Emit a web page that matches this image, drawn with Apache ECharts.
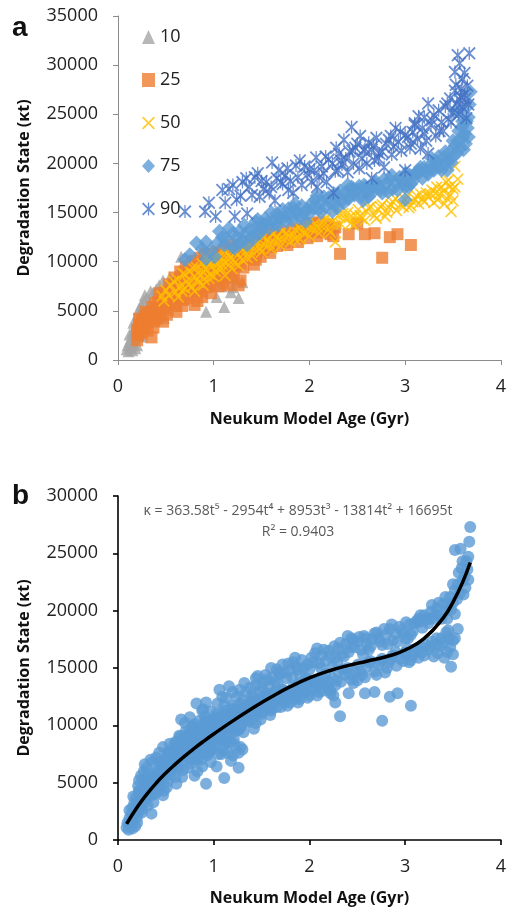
<!DOCTYPE html>
<html>
<head>
<meta charset="utf-8">
<script src="https://cdn.jsdelivr.net/npm/echarts@6/dist/echarts.min.js"></script>
<style>html,body{margin:0;padding:0;background:#fff;}#c{width:509px;height:913px;}</style>
</head>
<body>
<div id="c"></div>
<script>
// ---- Data ----
const seriesNames = ['10', '25', '50', '75', '90'];
const xTicks = [0, 1, 2, 3, 4];
const yTicksTop = [0, 5000, 10000, 15000, 20000, 25000, 30000, 35000];
const yTicksBottom = [0, 5000, 10000, 15000, 20000, 25000, 30000];

const p10 = [[0.09,1100],[0.1,1500],[0.11,900],[0.12,1900],[0.13,1300],[0.14,2300],[0.15,1000],[0.15,2800],[0.16,1700],[0.17,3200],[0.18,2200],[0.19,3700],[0.2,1500],[0.21,4700],[0.21,2700],[0.22,4300],[0.23,3300],[0.24,5600],[0.25,2400],[0.26,4200],[0.27,6000],[0.28,3600],[0.29,5200],[0.3,6300],[0.31,4600],[0.33,5800],[0.35,3900],[0.36,6800],[0.38,5000],[0.4,7200],[0.42,6100],[0.44,5500],[0.47,8100],[0.48,4300],[0.5,6500],[0.55,5900],[0.58,7000],[0.61,8600],[0.63,6300],[0.66,10500],[0.68,7800],[0.72,9200],[0.75,7100],[0.8,8400],[0.85,9600],[0.89,11400],[0.92,4900],[0.95,7600],[1.0,8900],[1.03,6400],[1.08,7500],[1.11,5400],[1.18,6900],[1.22,8300],[1.26,6300],[1.3,7900],
  [0.12,2600],[0.14,1500],[0.16,3800],[0.18,1200],[0.19,2900],[0.22,5200],[0.24,3900],[0.26,5300],[0.28,6600],[0.32,4200],[0.34,7000],[0.37,5500],[0.41,4800],[0.43,7600],[0.45,6700],[0.52,7600],[0.54,8400],[0.57,6400],[0.6,7600],[0.64,9100],[0.7,8300],[0.78,9900],[0.83,7000],[0.9,10200],[0.97,8200],[1.05,9400],[1.14,8600],[1.2,7400],[1.25,9600]];

const p25 = [[0.2,3100],[0.21,2500],[0.22,3600],[0.23,2900],[0.24,3400],[0.25,4000],[0.27,3200],[0.28,4400],[0.3,3700],[0.32,4800],[0.35,2300],[0.35,4200],[0.36,5400],[0.38,4000],[0.4,5000],[0.42,5900],[0.44,4600],[0.46,6500],[0.48,5300],[0.5,6000],[0.52,5100],[0.54,7000],[0.56,6200],[0.58,7600],[0.6,5500],[0.62,6800],[0.64,8000],[0.66,7200],[0.68,6100],[0.7,8600],[0.72,7700],[0.74,9200],[0.76,6700],[0.78,8300],[0.8,5600],[0.8,10100],[0.82,7400],[0.84,9000],[0.86,8000],[0.88,6400],[0.9,9600],[0.92,8500],[0.94,10300],[0.96,7700],[0.98,9100],[1.0,10600],[1.02,8300],[1.04,9800],[1.06,10900],[1.08,8800],[1.1,7800],[1.12,10200],[1.14,9300],[1.16,11100],[1.18,8500],[1.2,10500],[1.22,9600],[1.25,11300],[1.28,8100],[1.28,9800],[1.3,10800],[1.33,11600],[1.36,10300],[1.4,11200],[1.44,10200],[1.47,11800],[1.5,12300],[1.53,11900],[1.57,12600],[1.6,11500],[1.64,12900],[1.68,12200],[1.72,13100],[1.77,11700],[1.8,12700],[1.86,12500],[1.9,13300],[1.95,12900],[2.0,13700],[2.05,13100],[2.1,14000],[2.17,13400],[2.22,12800],[2.27,13500],[2.32,10800],[2.41,12800],[2.5,13900],[2.58,12800],[2.68,12900],[2.76,10400],[2.84,12500],[2.92,12800],[3.06,11700],
  [0.2,2000],[0.22,4200],[0.25,2700],[0.26,3700],[0.29,4900],[0.31,3000],[0.33,4100],[0.37,3300],[0.39,5800],[0.41,4200],[0.43,6800],[0.45,5400],[0.47,3900],[0.49,6900],[0.51,4600],[0.53,7700],[0.55,5700],[0.57,6800],[0.59,8400],[0.61,4900],[0.63,7200],[0.65,9000],[0.67,5500],[0.69,7500],[0.71,9500],[0.73,6300],[0.75,8100],[0.77,9900],[0.79,7200],[0.81,8800],[0.83,6000],[0.85,10400],[0.87,7000],[0.89,8900],[0.91,10800],[0.93,7400],[0.95,9400],[0.97,6800],[0.99,8000],[1.01,9600],[1.03,11000],[1.05,7500],[1.07,9200],[1.09,10400],[1.11,8400],[1.13,11300],[1.15,7600],[1.17,9800],[1.19,11700],[1.21,8800],[1.23,10200],[1.26,7600],[1.29,11300],[1.31,9400],[1.34,10800],[1.38,12000],[1.42,9700],[1.45,11000],[1.49,10500],[1.52,11200],[1.55,12800],[1.59,10900],[1.62,12300],[1.66,11600],[1.7,12500],[1.74,12000],[1.83,13300],[1.88,12000],[1.98,12400],[2.03,13900],[2.08,12600],[2.13,13000],[2.2,13800],[2.25,12600]];

const p50 = [[0.46,6500],[0.5,7100],[0.55,7600],[0.6,6900],[0.62,8200],[0.65,7500],[0.68,8800],[0.7,7300],[0.72,8000],[0.75,9000],[0.77,7400],[0.8,8500],[0.82,9400],[0.84,7900],[0.86,8700],[0.88,9800],[0.9,8200],[0.92,9200],[0.94,10100],[0.96,8700],[0.98,9500],[1.0,10300],[1.02,9000],[1.04,9800],[1.06,10600],[1.08,9300],[1.1,10100],[1.12,8600],[1.14,10900],[1.16,9700],[1.18,10400],[1.2,11100],[1.22,9900],[1.25,10700],[1.28,11400],[1.3,10200],[1.33,11000],[1.36,11700],[1.4,10600],[1.43,11300],[1.46,12000],[1.5,11000],[1.53,11700],[1.56,12300],[1.6,11300],[1.63,12000],[1.66,12600],[1.7,11600],[1.73,12300],[1.76,12900],[1.8,12000],[1.83,12700],[1.86,13200],[1.9,12300],[1.93,13000],[1.96,13600],[2.0,12600],[2.03,13300],[2.06,13900],[2.1,12900],[2.13,13600],[2.17,14500],[2.2,13300],[2.24,14100],[2.27,12000],[2.3,14700],[2.33,13800],[2.37,14400],[2.4,15000],[2.44,14000],[2.48,14700],[2.51,15300],[2.55,14400],[2.6,15100],[2.64,15600],[2.68,14700],[2.72,15300],[2.76,15800],[2.79,14600],[2.83,15500],[2.87,16100],[2.91,15200],[2.95,15800],[3.0,16300],[3.04,15500],[3.08,16100],[3.12,16700],[3.14,15900],[3.18,16400],[3.22,17000],[3.24,16600],[3.28,17300],[3.3,16000],[3.33,17600],[3.36,16900],[3.38,17600],[3.41,15900],[3.43,18100],[3.45,18300],[3.47,16800],[3.48,15100],[3.5,17400],[3.52,17600],[3.52,19700],[3.55,18400],
  [0.48,6000],[0.53,6600],[0.58,8000],[0.63,6400],[0.67,7000],[0.7,8700],[0.74,7700],[0.78,9400],[0.8,7000],[0.83,8200],[0.87,9200],[0.89,7600],[0.92,10400],[0.95,8300],[0.97,9900],[1.0,8500],[1.03,10600],[1.05,9300],[1.09,9700],[1.11,11000],[1.15,10200],[1.19,9300],[1.23,11000],[1.26,9600],[1.3,11600],[1.35,10400],[1.38,11200],[1.42,12100],[1.48,11400],[1.52,12500],[1.58,11800],[1.62,12800],[1.68,12200],[1.72,13100],[1.78,12600],[1.85,12300],[1.88,13600],[1.95,12900],[1.98,14000],[2.08,13500],[2.15,14100],[2.22,13000],[2.28,13900],[2.35,14900],[2.42,14500],[2.46,13700],[2.53,14700],[2.58,14200],[2.62,15500],[2.7,14400],[2.74,15600],[2.81,15000],[2.85,15800],[2.9,16400],[2.98,15600],[3.02,16700],[3.06,15700],[3.1,16400],[3.16,16900],[3.2,16100],[3.26,16900],[3.32,17000],[3.34,16300],[3.4,17200],[3.44,16400],[3.46,17600],[3.5,16200]];

const p75 = [[0.7,10200],[0.82,11900],[0.92,10300],[0.92,12000],[1.01,10500],[1.09,12500],[1.13,12400],[1.2,12900],[1.2,11500],[1.22,11400],[1.27,13100],[1.3,12200],[1.34,12900],[1.35,11700],[1.4,12600],[1.44,14100],[1.44,13500],[1.48,12900],[1.52,13800],[1.54,14400],[1.58,13400],[1.62,14200],[1.66,14900],[1.67,13700],[1.7,14500],[1.72,15300],[1.76,14100],[1.8,14800],[1.83,15500],[1.86,15100],[1.9,14400],[1.92,15700],[1.96,14100],[1.98,15300],[2.02,15900],[2.06,16300],[2.1,15400],[2.13,16100],[2.17,15600],[2.2,16500],[2.24,15100],[2.27,15900],[2.3,16700],[2.34,16200],[2.38,17100],[2.41,16400],[2.44,17600],[2.47,16800],[2.5,17300],[2.54,16600],[2.57,17800],[2.6,17100],[2.62,16600],[2.66,17500],[2.7,18100],[2.72,17600],[2.76,17000],[2.8,17900],[2.84,18400],[2.87,17400],[2.9,18000],[2.94,18600],[2.96,18300],[3.0,16300],[3.0,17600],[3.03,17600],[3.05,18800],[3.08,18200],[3.12,19100],[3.14,19300],[3.14,19000],[3.18,18500],[3.2,19600],[3.24,18900],[3.27,19900],[3.3,19300],[3.33,20200],[3.36,19600],[3.38,19300],[3.4,20600],[3.43,20000],[3.45,20300],[3.47,21200],[3.5,20700],[3.52,21800],[3.52,25300],[3.55,22300],[3.57,21500],[3.58,25400],[3.59,23700],[3.6,22600],[3.61,21400],[3.62,23000],[3.64,24300],[3.66,22700],[3.66,24700],[3.67,26000],[3.68,27300],
  [0.75,10700],[0.88,11300],[0.97,11200],[1.04,11900],[1.06,13100],[1.11,11700],[1.16,13400],[1.24,12500],[1.28,11900],[1.32,13700],[1.38,13300],[1.42,12400],[1.46,14300],[1.5,13300],[1.56,14000],[1.6,15000],[1.64,13800],[1.68,14600],[1.74,14600],[1.78,15400],[1.82,14200],[1.85,15900],[1.88,14900],[1.94,15000],[2.0,14900],[2.04,15500],[2.08,16700],[2.12,15000],[2.15,16600],[2.22,16000],[2.26,16900],[2.29,15500],[2.32,17200],[2.36,16000],[2.4,17800],[2.43,16800],[2.46,17400],[2.52,17700],[2.56,16200],[2.59,17600],[2.64,16900],[2.68,18000],[2.74,17300],[2.78,18400],[2.82,17100],[2.86,18800],[2.92,17300],[2.98,18000],[3.01,19000],[3.06,17900],[3.1,18900],[3.16,19600],[3.22,19200],[3.26,19300],[3.28,20500],[3.32,19700],[3.35,20700],[3.42,21200],[3.44,19300],[3.48,20100],[3.5,22300],[3.54,21000],[3.56,23300],[3.6,24300],[3.63,22000],[3.65,23600]];

const p90 = [[0.7,15100],[0.91,15100],[1.02,14600],[1.09,17300],[1.16,17400],[1.22,14600],[1.24,16300],[1.3,18100],[1.34,18500],[1.35,14900],[1.4,16800],[1.43,18600],[1.48,16600],[1.52,17400],[1.55,18100],[1.58,17000],[1.61,20100],[1.64,16200],[1.66,18500],[1.68,19300],[1.72,17900],[1.75,18800],[1.78,17300],[1.8,18200],[1.83,17000],[1.86,19800],[1.88,18600],[1.92,17800],[1.95,19700],[1.98,18900],[2.02,18100],[2.05,19300],[2.08,17600],[2.1,18600],[2.13,19700],[2.15,19000],[2.18,18100],[2.2,20400],[2.24,20000],[2.25,17000],[2.27,19200],[2.3,19300],[2.31,21000],[2.34,19900],[2.36,22400],[2.38,20500],[2.4,19100],[2.42,21200],[2.44,23700],[2.46,20000],[2.48,21600],[2.5,22000],[2.52,19500],[2.55,20500],[2.57,21300],[2.6,20000],[2.62,22100],[2.65,21400],[2.65,18500],[2.68,20300],[2.7,22600],[2.73,21000],[2.76,21200],[2.78,19600],[2.8,22000],[2.83,22400],[2.86,20900],[2.88,21700],[2.9,23600],[2.93,22200],[2.96,21300],[3.0,22900],[3.0,19300],[3.03,22700],[3.05,21600],[3.08,23200],[3.1,23900],[3.1,24100],[3.13,22500],[3.16,21500],[3.18,23600],[3.2,24700],[3.22,22300],[3.24,26100],[3.24,21000],[3.27,23900],[3.3,24900],[3.32,22800],[3.35,25400],[3.38,24200],[3.4,23300],[3.42,25800],[3.45,24500],[3.47,26600],[3.5,25200],[3.52,27400],[3.52,29300],[3.54,26100],[3.55,31000],[3.56,25000],[3.57,30200],[3.58,26800],[3.59,27600],[3.6,25700],[3.62,29200],[3.63,26600],[3.64,24600],[3.65,27900],[3.67,31200],
  [0.95,16000],[1.12,16000],[1.2,17800],[1.28,16700],[1.37,17600],[1.46,19000],[1.5,18200],[1.6,17600],[1.7,18100],[1.77,19500],[1.9,20300],[2.0,19400],[2.07,20600],[2.17,20700],[2.28,21600],[2.33,20300],[2.45,21300],[2.53,22800],[2.58,21500],[2.67,21800],[2.72,20500],[2.85,22800],[2.95,23200],[3.06,22000],[3.14,24800],[3.2,23000],[3.28,24400],[3.36,23300],[3.44,26100],[3.48,24200],[3.53,28000],[3.57,26500],[3.6,28600],[3.62,27000],[3.66,26000]];

// fitted trend curve (panel b)
const fitT = [0.09,0.2,0.3,0.4,0.5,0.6,0.7,0.8,0.9,1.0,1.2,1.4,1.6,1.8,2.0,2.2,2.4,2.6,2.8,3.0,3.2,3.4,3.5,3.6,3.68];
const fitV = [1400,2850,3980,4970,5840,6620,7340,8010,8640,9240,10390,11470,12470,13370,14130,14740,15210,15590,15980,16570,17590,19400,20750,22470,24200];

const eqText = 'κ = 363.58t⁵ - 2954t⁴ + 8953t³ - 13814t² + 16695t';
const r2Text = 'R² = 0.9403';

// ---- Chart ----
const FONT = 'Open Sans';
const xPath = 'path://M0,0.1L0.1,0L0.5,0.4L0.9,0L1,0.1L0.6,0.5L1,0.9L0.9,1L0.5,0.6L0.1,1L0,0.9L0.4,0.5Z';
const starPath = 'path://M0,0.1L0.1,0L0.5,0.4L0.9,0L1,0.1L0.6,0.5L1,0.9L0.9,1L0.5,0.6L0.1,1L0,0.9L0.4,0.5Z M0.45,0L0.55,0L0.55,1L0.45,1Z';

const chart = echarts.init(document.getElementById('c'), null, {renderer: 'canvas'});

function xAxisDef(gridIndex, color, width) {
  return {
    gridIndex, type: 'value', min: 0, max: 4, interval: 1,
    name: 'Neukum Model Age (Gyr)', nameLocation: 'middle', nameGap: gridIndex === 0 ? 51 : 50,
    nameTextStyle: {fontFamily: FONT, fontWeight: 'bold', fontSize: 16, color: '#111'},
    axisLine: {show: true, onZero: false, lineStyle: {color, width}},
    axisTick: {show: true, length: 5, lineStyle: {color, width}},
    axisLabel: {fontFamily: FONT, fontSize: 18, color: '#222', margin: 18, formatter: v => String(v)},
    splitLine: {show: false}
  };
}
function yAxisDef(gridIndex, max, color, width) {
  return {
    gridIndex, type: 'value', min: 0, max, interval: 5000,
    name: 'Degradation State (κt)', nameLocation: 'middle', nameGap: 86, nameRotate: 90,
    nameTextStyle: {fontFamily: FONT, fontWeight: 'bold', fontSize: 16, color: '#111'},
    axisLine: {show: true, lineStyle: {color, width}},
    axisTick: {show: true, length: 5, lineStyle: {color, width}},
    axisLabel: {fontFamily: FONT, fontSize: 18, color: '#222', margin: 20, formatter: v => String(v)},
    splitLine: {show: false}
  };
}

const allB = [].concat(p10, p25, p50, p75);

chart.setOption({
  animation: false,
  backgroundColor: '#fff',
  grid: [
    {left: 118, top: 16, width: 385, height: 344},
    {left: 118, top: 496, width: 383, height: 344}
  ],
  xAxis: [xAxisDef(0, '#8c8c8c', 1), xAxisDef(1, '#000', 1.6)],
  yAxis: [yAxisDef(0, 35000, '#8c8c8c', 1), yAxisDef(1, 30000, '#000', 1.6)],
  legend: {
    data: seriesNames, orient: 'vertical', left: 137, top: 23,
    itemWidth: 13, itemHeight: 14, itemGap: 25,
    textStyle: {fontFamily: FONT, fontSize: 18, color: '#222', lineHeight: 14}
  },
  graphic: [
    {type: 'text', left: 12, top: 14, style: {text: 'a', font: 'bold 28px "Liberation Sans", Arial', fill: '#111'}},
    {type: 'text', left: 12, top: 482, style: {text: 'b', font: 'bold 28px "Liberation Sans", Arial', fill: '#111'}},
    {type: 'text', x: 298, y: 511, style: {text: eqText, font: '14px "Open Sans"', fill: '#595959', textAlign: 'center', textVerticalAlign: 'middle'}},
    {type: 'text', x: 298, y: 532, style: {text: r2Text, font: '14px "Open Sans"', fill: '#595959', textAlign: 'center', textVerticalAlign: 'middle'}}
  ],
  series: [
    {name: '10', type: 'scatter', xAxisIndex: 0, yAxisIndex: 0, data: p10, symbol: 'triangle', symbolSize: 12, itemStyle: {color: '#A5A5A5'}},
    {name: '25', type: 'scatter', xAxisIndex: 0, yAxisIndex: 0, data: p25, symbol: 'rect', symbolSize: 12, itemStyle: {color: '#ED7D31'}},
    {name: '50', type: 'scatter', xAxisIndex: 0, yAxisIndex: 0, data: p50, symbol: xPath, symbolSize: 12, itemStyle: {color: '#FFC000'}},
    {name: '75', type: 'scatter', xAxisIndex: 0, yAxisIndex: 0, data: p75, symbol: 'diamond', symbolSize: 15, itemStyle: {color: '#5B9BD5'}},
    {name: '90', type: 'scatter', xAxisIndex: 0, yAxisIndex: 0, data: p90, symbol: starPath, symbolSize: 13, itemStyle: {color: '#4472C4'}},
    {name: 'all', type: 'scatter', xAxisIndex: 1, yAxisIndex: 1, data: allB, symbol: 'circle', symbolSize: 12, itemStyle: {color: '#5B9BD5'}},
    {name: 'fit', type: 'line', xAxisIndex: 1, yAxisIndex: 1, data: fitT.map((t, i) => [t, fitV[i]]), smooth: true, showSymbol: false, symbol: 'none', lineStyle: {color: '#000', width: 3.5}}
  ]
});
</script>
</body>
</html>
